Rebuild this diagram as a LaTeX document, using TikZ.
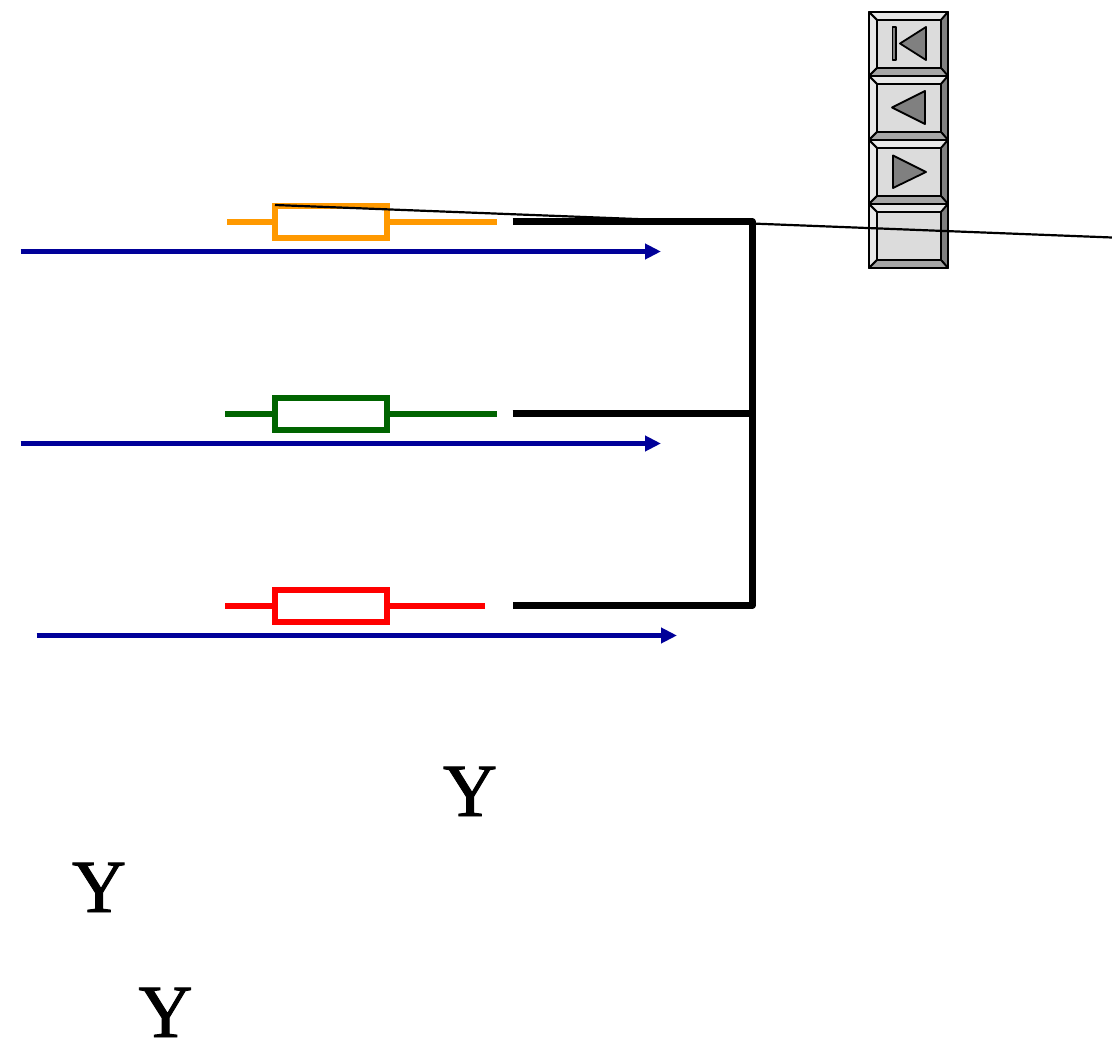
\documentclass[tikz,border=0pt]{standalone}
\usepackage{fontspec}
\setmainfont{Liberation Serif}
\newfontfamily\yfont[FakeBold=1.2]{Liberation Serif}
\usetikzlibrary{arrows.meta}
\definecolor{myorange}{HTML}{FF9900}
\definecolor{mygreen}{HTML}{006400}
\definecolor{myred}{HTML}{FF0000}
\definecolor{myblue}{HTML}{000099}
\definecolor{bevlight}{HTML}{E8E8E8}
\definecolor{bevdark}{HTML}{808080}
\definecolor{bevmid}{HTML}{A6A6A6}
\definecolor{bevface}{HTML}{DCDCDC}
\tikzset{
  resistor/.style={draw=#1,line width=6pt,fill=white,minimum width=112pt,minimum height=32pt,inner sep=0pt,outer sep=0pt},
  lead/.style={draw=#1,line width=6pt},
  bus/.style={draw=black,line width=6.2pt,line join=round},
  signal/.style={draw=myblue,line width=4.2pt,-{Triangle[length=16pt,width=15pt]}},
  bigY/.style={font=\yfont\fontsize{75}{75}\selectfont,inner sep=0pt,anchor=base},
  btnline/.style={draw=black,line width=1.8pt,line join=round},
  icon/.style={draw=black,line width=1.8pt,fill=bevdark,line join=round},
  cursor/.style={draw=black,line width=2.2pt}
}
\newcommand{\vcrbutton}[1]{%
  \fill[bevlight] (869,#1) rectangle (948,#1+64);
  \filldraw[btnline,fill=bevlight] (869,#1) -- (948,#1) -- (941,#1+8) -- (877,#1+8) -- cycle;
  \filldraw[btnline,fill=bevlight] (869,#1) -- (877,#1+8) -- (877,#1+56) -- (869,#1+64) -- cycle;
  \filldraw[btnline,fill=bevdark] (948,#1) -- (941,#1+8) -- (941,#1+56) -- (948,#1+64) -- cycle;
  \filldraw[btnline,fill=bevmid] (869,#1+64) -- (877,#1+56) -- (941,#1+56) -- (948,#1+64) -- cycle;
  \filldraw[btnline,fill=bevface] (877,#1+8) rectangle (941,#1+56);
}
\begin{document}
\begin{tikzpicture}[x=1pt,y=-1pt]
\useasboundingbox (0,0) rectangle (1112,1049);
\fill[white] (0,0) rectangle (1112,1049);

% navigation buttons
\vcrbutton{12}
\vcrbutton{76}
\vcrbutton{140}
\vcrbutton{204}
\filldraw[icon] (892.5,27) rectangle (896,60);
\filldraw[icon] (900,43.5) -- (926,27) -- (926,60) -- cycle;
\filldraw[icon] (892,107.5) -- (925,91) -- (925,124) -- cycle;
\filldraw[icon] (893,155.5) -- (893,188) -- (926,172) -- cycle;

% free ends
\coordinate (la) at (227,221.5);
\coordinate (ra) at (496.5,221.5);
\coordinate (lb) at (225,413.5);
\coordinate (rb) at (496.5,413.5);
\coordinate (lc) at (225,605.5);
\coordinate (rc) at (484.5,605.5);
\coordinate (ba) at (512.5,221.5);
\coordinate (bb) at (512.5,413.5);
\coordinate (bc) at (512.5,605.5);
\coordinate (ca) at (752.5,221.5);
\coordinate (cb) at (752.5,413.5);
\coordinate (cc) at (752.5,605.5);
\coordinate (sa) at (20.5,251.5);
\coordinate (ea) at (661,251.5);
\coordinate (sb) at (20.5,443.5);
\coordinate (eb) at (661,443.5);
\coordinate (sc) at (36.5,635.5);
\coordinate (ec) at (677,635.5);
\coordinate (cursorA) at (275,205);
\coordinate (cursorB) at (1112,237.5);

% resistors
\node[resistor=myorange] (ra1) at (330.5,221.5) {};
\node[resistor=mygreen] (ra2) at (330.5,413.5) {};
\node[resistor=myred] (ra3) at (330.5,605.5) {};
\draw[lead=myorange] (la) -- (ra1.west) (ra1.east) -- (ra);
\draw[lead=mygreen] (lb) -- (ra2.west) (ra2.east) -- (rb);
\draw[lead=myred] (lc) -- (ra3.west) (ra3.east) -- (rc);

% bus
\draw[bus] (ba) -- (ca) -- (cc) -- (bc);
\draw[bus] (bb) -- (cb);

% signals
\draw[signal] (sa) -- (ea);
\draw[signal] (sb) -- (eb);
\draw[signal] (sc) -- (ec);

% thin line
\draw[cursor] (cursorA) -- (cursorB);

% labels
\node[bigY] (y1) at (470,816) {Y};
\node[bigY] (y2) at (99,912) {Y};
\node[bigY] (y3) at (165.5,1037) {Y};
\end{tikzpicture}
\end{document}
